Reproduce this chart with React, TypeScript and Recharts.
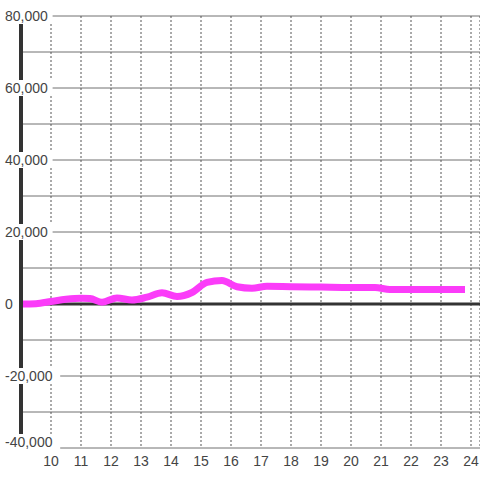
import React from 'react';
import { LineChart, Line, XAxis, YAxis, CartesianGrid, ReferenceLine } from 'recharts';

const hours = [9, 9.5, 10, 10.5, 11, 11.3, 11.7, 12.2, 12.7, 13.2, 13.7, 14.2, 14.7, 15.2, 15.7, 16.2, 16.7, 17.2, 18, 19, 20, 20.8, 21.3, 22, 23, 23.8];
const values = [0, 100, 700, 1300, 1600, 1500, 500, 1700, 1100, 1900, 3100, 2100, 3200, 6000, 6500, 4800, 4400, 4900, 4800, 4700, 4600, 4600, 4000, 4000, 4000, 4000];
const xTicks = [10, 11, 12, 13, 14, 15, 16, 17, 18, 19, 20, 21, 22, 23, 24];
const yTicks = [-40000, -30000, -20000, -10000, 0, 10000, 20000, 30000, 40000, 50000, 60000, 70000, 80000];

const data = hours.map((h, i) => ({ x: h, v: values[i] }));

const FONT = '"Liberation Sans", Arial, sans-serif';

const YTick = (props: any) => {
  const { y, payload } = props;
  const val = payload.value as number;
  if (val % 20000 !== 0) return <g />;
  const label = val.toLocaleString('en-US');
  const ty = val === -40000 ? y - 6 : y;
  const w = label.length * 7.6 + 3;
  return (
    <g>
      <rect x={4} y={ty - 8} width={w} height={16} fill="#fff" />
      <text x={5} y={ty} dy="0.36em" textAnchor="start" fontSize={14} fill="#444" fontFamily={FONT}>
        {label}
      </text>
    </g>
  );
};

const XTick = (props: any) => {
  const { x, payload } = props;
  return (
    <text x={x} y={461} dy="0.36em" textAnchor="middle" fontSize={14} fill="#444" fontFamily={FONT}>
      {payload.value}
    </text>
  );
};

export default function App() {
  return (
    <div style={{ position: 'fixed', left: 0, top: 0, background: '#fff' }}>
      <LineChart width={480} height={480} data={data} margin={{ top: 16, right: 0, bottom: 0, left: 0 }}>
        <CartesianGrid horizontal={true} vertical={false} stroke="#707070" strokeWidth={1} />
        <CartesianGrid horizontal={false} vertical={true} stroke="#555" strokeDasharray="2 2" strokeWidth={1} />
        <XAxis
          type="number"
          dataKey="x"
          domain={[9, 24.3]}
          ticks={xTicks}
          interval={0}
          axisLine={false}
          tickLine={false}
          height={32}
          tick={<XTick />}
        />
        <YAxis
          type="number"
          domain={[-40000, 80000]}
          ticks={yTicks}
          interval={0}
          width={21}
          axisLine={{ stroke: '#333', strokeWidth: 4 }}
          tickLine={false}
          tick={<YTick />}
        />
        <ReferenceLine y={0} stroke="#333" strokeWidth={3} />
        <Line
          type="monotone"
          dataKey="v"
          stroke="#fb3cf9"
          strokeWidth={7}
          dot={false}
          isAnimationActive={false}
        />
      </LineChart>
    </div>
  );
}
